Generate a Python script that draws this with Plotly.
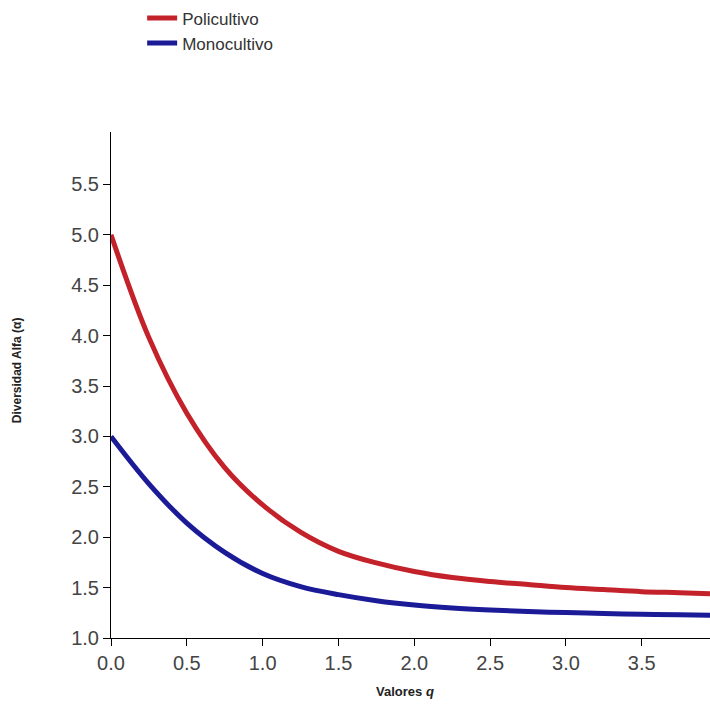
import plotly.graph_objects as go

q_vals = [0.0, 0.25, 0.5, 0.75, 1.0, 1.25, 1.5, 1.75, 2.0, 2.25, 2.5, 2.75, 3.0, 3.25, 3.5, 3.75, 3.95]
policultivo = [5.00, 3.98, 3.23, 2.69, 2.32, 2.05, 1.86, 1.745, 1.66, 1.60, 1.56, 1.53, 1.50, 1.48, 1.46, 1.45, 1.44]
monocultivo = [3.00, 2.53, 2.14, 1.85, 1.64, 1.51, 1.43, 1.37, 1.327, 1.298, 1.278, 1.263, 1.252, 1.243, 1.236, 1.23, 1.225]

x_ticks = [0.0, 0.5, 1.0, 1.5, 2.0, 2.5, 3.0, 3.5]
y_ticks = [1.0, 1.5, 2.0, 2.5, 3.0, 3.5, 4.0, 4.5, 5.0, 5.5]

fig = go.Figure()
fig.add_trace(go.Scatter(x=q_vals, y=policultivo, mode="lines", name="Policultivo",
                         line=dict(color="#C4222A", width=5, shape="spline", smoothing=1.0)))
fig.add_trace(go.Scatter(x=q_vals, y=monocultivo, mode="lines", name="Monocultivo",
                         line=dict(color="#1B1B98", width=5, shape="spline", smoothing=1.0)))

tickfont = dict(family="Liberation Sans, Arial", size=20, color="#444444")

fig.update_layout(
    width=710, height=721,
    margin=dict(l=111, r=0, t=127, b=83),
    paper_bgcolor="white", plot_bgcolor="white",
    showlegend=True,
    legend=dict(x=0.052, y=1.26, xanchor="left", yanchor="top",
                font=dict(family="Liberation Sans, Arial", size=17, color="#333333"),
                bgcolor="rgba(0,0,0,0)", tracegroupgap=0, itemwidth=30),
    xaxis=dict(range=[0, 3.95], tickvals=x_ticks, tickformat=".1f",
               showline=True, linecolor="black", linewidth=1,
               ticks="outside", ticklen=7, tickcolor="black",
               showgrid=False, zeroline=False, tickfont=tickfont),
    yaxis=dict(range=[1, 6.02], tickvals=y_ticks, tickformat=".1f",
               showline=True, linecolor="black", linewidth=1,
               ticks="outside", ticklen=7, tickcolor="black",
               showgrid=False, zeroline=False, tickfont=tickfont),
    annotations=[
        dict(text="<b>Valores <i>q</i></b>", xref="paper", yref="paper",
             x=0.49, y=-0.105, xanchor="center", yanchor="middle", showarrow=False,
             font=dict(family="Liberation Sans, Arial", size=13, color="#222222")),
        dict(text="<b>Diversidad Alfa (α)</b>", xref="paper", yref="paper",
             x=-0.158, y=0.53, xanchor="center", yanchor="middle", showarrow=False, textangle=-90,
             font=dict(family="Liberation Sans, Arial", size=12, color="#222222")),
    ],
)

fig.write_html("out.html")
